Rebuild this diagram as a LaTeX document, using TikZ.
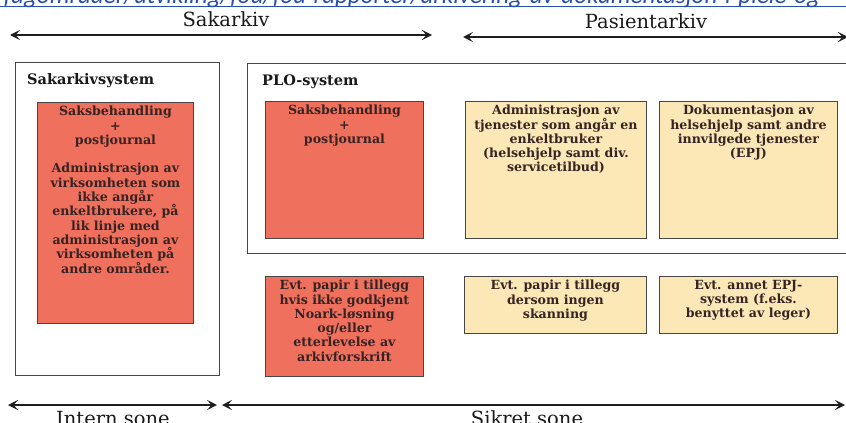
\documentclass[tikz,border=0pt]{standalone}
\usepackage{fontspec}
\setmainfont{DejaVu Serif}
\newfontfamily\linkfont{Carlito}
\usetikzlibrary{arrows.meta}
\definecolor{redfill}{RGB}{240,112,94}
\definecolor{yelfill}{RGB}{252,232,182}
\definecolor{boxline}{RGB}{70,70,70}
\definecolor{boxtxt}{RGB}{55,35,35}
\definecolor{linkblue}{RGB}{40,80,170}
\definecolor{arrowcol}{RGB}{30,30,30}
\begin{document}
\begin{tikzpicture}[x=1pt,y=-1pt,
  outerbox/.style={draw=boxline,line width=0.9pt,fill=white,anchor=north west,inner sep=0pt},
  redbox/.style={draw=boxline,line width=0.9pt,fill=redfill,anchor=north west,inner sep=0pt},
  yelbox/.style={draw=boxline,line width=0.9pt,fill=yelfill,anchor=north west,inner sep=0pt},
  boxtext/.style={anchor=north,align=center,text=boxtxt,inner sep=0pt,
    font=\bfseries\fontsize{12.6}{14.3}\selectfont},
  heading/.style={anchor=base west,inner sep=0pt,font=\bfseries\fontsize{14.5}{17}\selectfont,text=black!90},
  zonelabel/.style={anchor=base,inner sep=0pt,font=\fontsize{19.5}{22}\selectfont,text=black!90},
  zonearrow/.style={draw=arrowcol,line width=2.4pt,{Stealth[length=10pt,width=10pt,inset=4.5pt]}-{Stealth[length=10pt,width=10pt,inset=4.5pt]}}
]
\useasboundingbox (0,0) rectangle (846,423);
\clip (0,0) rectangle (846,423);

% cut-off link at top
\node[anchor=base west,inner sep=0pt,text=linkblue,font=\linkfont\itshape\fontsize{25}{26}\selectfont] (url) at (-6,4) {/fagomrader/utvikling/fou/fou-rapporter/arkivering-av-dokumentasjon-i-pleie-og};
\coordinate (u1) at (0,6.5);
\coordinate (u2) at (846,6.5);
\draw[linkblue,line width=1.1pt] (u1) -- (u2);

% top zone labels and arrows
\node[zonelabel] (sakarkiv) at (226,27) {Sakarkiv};
\node[zonelabel] (pasientarkiv) at (646,28) {Pasientarkiv};
\coordinate (sa1) at (10,35);
\coordinate (sa2) at (432,35);
\coordinate (pa1) at (463,37);
\coordinate (pa2) at (848,37);
\draw[zonearrow] (sa1) -- (sa2);
\draw[zonearrow] (pa1) -- (pa2);

% outer system boxes
\node[outerbox,minimum width=204pt,minimum height=313pt] (sakbox) at (15,62) {};
\node[outerbox,minimum width=613pt,minimum height=190pt] (plobox) at (247,63) {};
\node[heading] (sakhead) at (27,84) {Sakarkivsystem};
\node[heading] (plohead) at (262,85) {PLO-system};

% inner boxes
\node[redbox,minimum width=156pt,minimum height=221pt] (r1) at (37,102) {};
\node[redbox,minimum width=158pt,minimum height=137pt] (r2) at (265,101) {};
\node[yelbox,minimum width=181pt,minimum height=137pt] (ya) at (465,101) {};
\node[yelbox,minimum width=178pt,minimum height=137pt] (yb) at (659,101) {};
\node[redbox,minimum width=158pt,minimum height=100pt] (r3) at (265,276) {};
\node[yelbox,minimum width=182pt,minimum height=57pt] (yc) at (464,276) {};
\node[yelbox,minimum width=178pt,minimum height=57pt] (yd) at (659,276) {};

\node[boxtext,below=4pt] (t1) at (r1.north) {Saksbehandling\\+\\postjournal\\[14.3pt]Administrasjon av\\virksomheten som\\ikke angår\\enkeltbrukere, på\\lik linje med\\administrasjon av\\virksomheten på\\andre områder.};
\node[boxtext,below=4pt] (t2) at (r2.north) {Saksbehandling\\+\\postjournal};
\node[boxtext,below=4pt] (ta) at (ya.north) {Administrasjon av\\tjenester som angår en\\enkeltbruker\\(helsehjelp samt div.\\servicetilbud)};
\node[boxtext,below=4pt] (tb) at (yb.north) {Dokumentasjon av\\helsehjelp samt andre\\innvilgede tjenester\\(EPJ)};
\node[boxtext,below=4pt] (t3) at (r3.north) {Evt. papir i tillegg\\hvis ikke godkjent\\Noark-løsning\\og/eller\\etterlevelse av\\arkivforskrift};
\node[boxtext,below=4pt] (tc) at (yc.north) {Evt. papir i tillegg\\dersom ingen\\skanning};
\node[boxtext,below=4pt] (td) at (yd.north) {Evt. annet EPJ-\\system (f.eks.\\benyttet av leger)};

% bottom zone arrows and labels
\coordinate (in1) at (8,405);
\coordinate (in2) at (217,405);
\coordinate (si1) at (222,405);
\coordinate (si2) at (845,405);
\draw[zonearrow] (in1) -- (in2);
\draw[zonearrow] (si1) -- (si2);
\node[zonelabel] (intern) at (113,425) {Intern sone};
\node[zonelabel] (sikret) at (527,425) {Sikret sone};
\end{tikzpicture}
\end{document}
